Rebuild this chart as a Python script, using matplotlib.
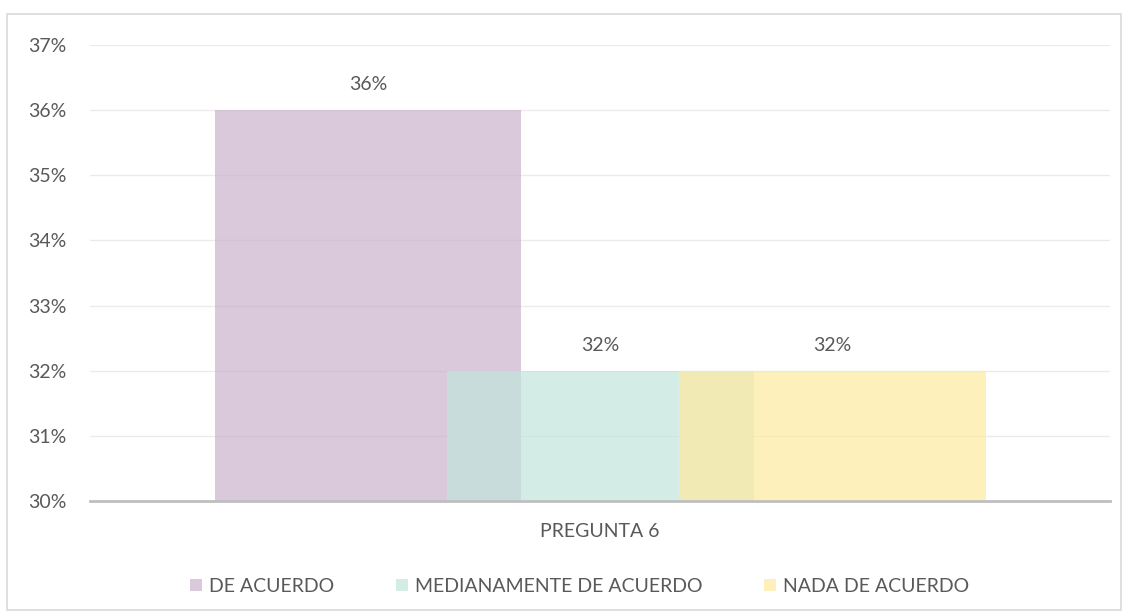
import matplotlib
matplotlib.use("Agg")
import matplotlib.pyplot as plt
from matplotlib.patches import Rectangle

# -----------------------------
# Data
# -----------------------------
categories = ["DE ACUERDO", "MEDIANAMENTE DE ACUERDO", "NADA DE ACUERDO"]
values = [36, 32, 32]
group_label = "PREGUNTA 6"
colors = ["#C9B2CD", "#C2E5DC", "#FEEA9F"]

plt.rcParams["font.family"] = ["Lato", "DejaVu Sans"]
text_color = "#595959"

fig = plt.figure(figsize=(11.28, 6.16), dpi=100)
ax = fig.add_axes([0.0798, 0.1867, 0.9043, 0.7403])

# outer border
fig.patches.append(Rectangle((0.006, 0.01), 0.988, 0.968, transform=fig.transFigure,
                             fill=False, edgecolor="#D9D9D9", linewidth=1.2))

# -----------------------------
# Bars (overlapping, semi-transparent)
# -----------------------------
positions = [-1, 0, 1]
width = 1.323
for pos, val, col, name in zip(positions, values, colors, categories):
    ax.bar(pos, val - 30, bottom=30, width=width, color=col, alpha=0.7,
           label=name, zorder=3)
    ax.annotate(f"{val}%", (pos, val), xytext=(0, 12), textcoords="offset points",
                ha="center", va="bottom", fontsize=14, color=text_color)

ax.set_xlim(-2.198, 2.198)
ax.set_ylim(30, 37)
ax.set_yticks(range(30, 38))
ax.set_yticklabels([f"{v}%" for v in range(30, 38)])
ax.set_xticks([0])
ax.set_xticklabels([group_label])

ax.grid(axis="y", color="#EBEBEB", linewidth=1, zorder=0)
for s in ["top", "right", "left"]:
    ax.spines[s].set_visible(False)
ax.spines["bottom"].set_color("#BFBFBF")
ax.spines["bottom"].set_linewidth(2)
ax.spines["bottom"].set_zorder(4)
ax.tick_params(axis="both", length=0, labelsize=14, colors=text_color)
ax.tick_params(axis="y", pad=17)
ax.tick_params(axis="x", pad=16)

leg = ax.legend(loc="upper center", bbox_to_anchor=(0.48, -0.13), ncol=3,
                frameon=False, fontsize=14, handlelength=0.6, handleheight=0.6,
                handletextpad=0.35, columnspacing=3.2)
for t in leg.get_texts():
    t.set_color(text_color)

fig.savefig("out.png", dpi=100)
